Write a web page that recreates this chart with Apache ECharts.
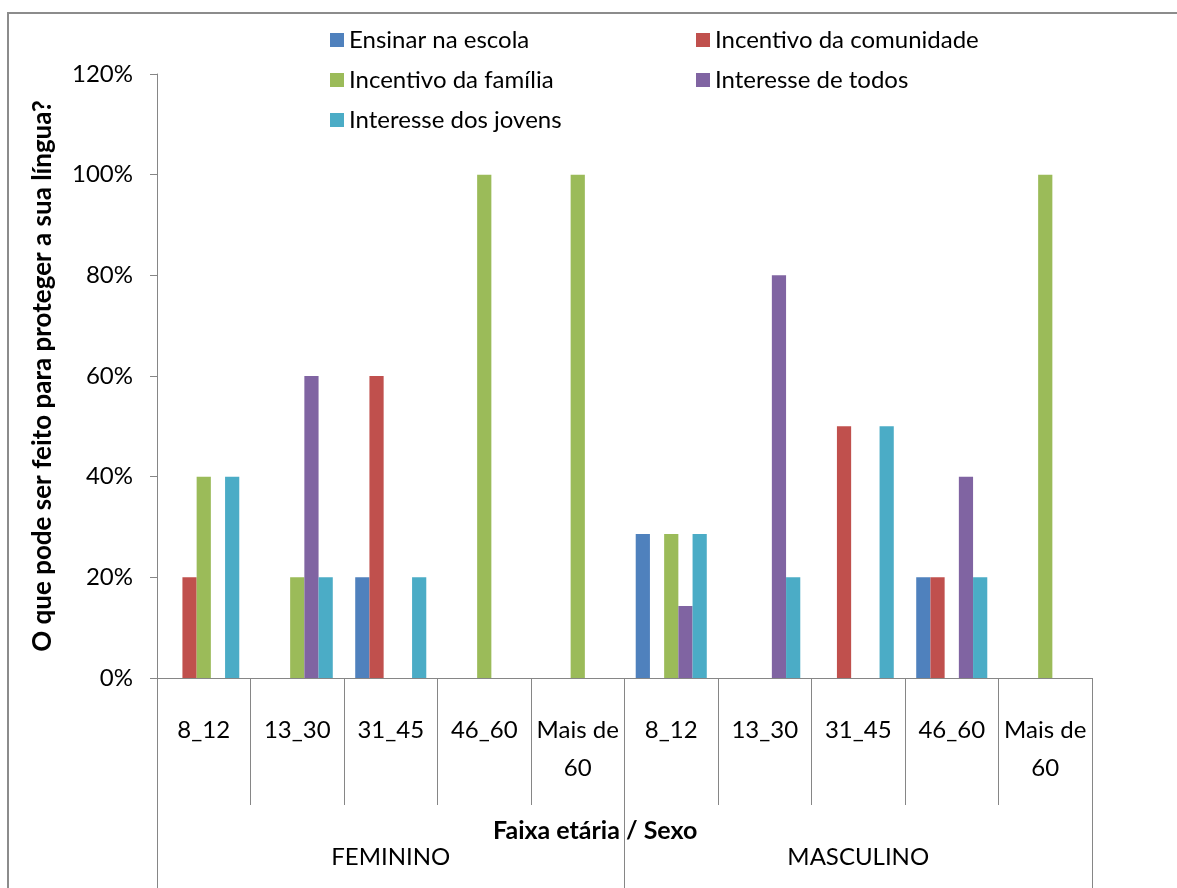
<!DOCTYPE html>
<html>
<head>
<meta charset="utf-8">
<script src="https://cdn.jsdelivr.net/npm/echarts@6/dist/echarts.min.js"></script>
<style>
  html, body { margin: 0; padding: 0; background: #fff; }
  #chart { width: 1177px; height: 888px; }
</style>
</head>
<body>
<div id="chart"></div>
<script>
// Age bands repeated for each sex, and the sex groups beneath them
const ageBands = ['8_12', '13_30', '31_45', '46_60', 'Mais de 60',
                  '8_12', '13_30', '31_45', '46_60', 'Mais de 60'];
const sexGroups = ['FEMININO', 'MASCULINO'];
const yTicks = [0, 20, 40, 60, 80, 100, 120];

// Share of answers (%) per age band / sex
const ensinarNaEscola       = [0, 0, 20, 0, 0, 28.6, 0, 0, 20, 0];
const incentivoComunidade   = [20, 0, 60, 0, 0, 0, 0, 50, 20, 0];
const incentivoFamilia      = [40, 20, 0, 100, 100, 28.6, 0, 0, 0, 100];
const interesseTodos        = [0, 60, 0, 0, 0, 14.3, 80, 0, 40, 0];
const interesseJovens       = [40, 20, 20, 0, 0, 28.6, 20, 50, 20, 0];

const seriesNames = ['Ensinar na escola', 'Incentivo da comunidade', 'Incentivo da família',
                     'Interesse de todos', 'Interesse dos jovens'];
const seriesValues = [ensinarNaEscola, incentivoComunidade, incentivoFamilia,
                      interesseTodos, interesseJovens];
const colors = ['#4F81BD', '#C0504D', '#9BBB59', '#8064A2', '#4BACC6'];

const FONT = 'Lato';
const axisGray = '#868686';

const chart = echarts.init(document.getElementById('chart'), null, { renderer: 'canvas' });

const legendText = { fontFamily: FONT, fontSize: 24, color: '#000', lineHeight: 26 };

chart.setOption({
  animation: false,
  color: colors,
  grid: { left: 157, right: 85, top: 74, bottom: 210, containLabel: false },
  legend: [
    {
      orient: 'vertical', left: 325, top: 22, itemWidth: 14, itemHeight: 14, itemGap: 14,
      icon: 'rect', textStyle: legendText,
      data: [seriesNames[0], seriesNames[2], seriesNames[4]]
    },
    {
      orient: 'vertical', left: 691, top: 22, itemWidth: 14, itemHeight: 14, itemGap: 14,
      icon: 'rect', textStyle: legendText,
      data: [seriesNames[1], seriesNames[3]]
    }
  ],
  xAxis: [
    {
      type: 'category',
      data: ageBands,
      axisLine: { show: true, lineStyle: { color: axisGray, width: 1 } },
      axisTick: { show: true, interval: 0, length: 127, lineStyle: { color: axisGray } },
      axisLabel: {
        interval: 0, margin: 33, fontFamily: FONT, fontSize: 24, color: '#000',
        lineHeight: 38, verticalAlign: 'top',
        formatter: v => v.replace('Mais de ', 'Mais de\n')
      },
      splitLine: { show: false }
    },
    {
      type: 'category',
      data: sexGroups,
      position: 'bottom',
      axisLine: { show: false },
      axisTick: { show: true, interval: 0, length: 210, lineStyle: { color: axisGray } },
      axisLabel: {
        interval: 0, margin: 166, fontFamily: FONT, fontSize: 24, color: '#000',
        lineHeight: 26, verticalAlign: 'top'
      },
      splitLine: { show: false }
    }
  ],
  yAxis: {
    type: 'value',
    min: yTicks[0],
    max: yTicks[yTicks.length - 1],
    interval: 20,
    name: 'O que pode ser feito para proteger a sua língua?',
    nameLocation: 'middle',
    nameRotate: 90,
    nameGap: 101,
    nameTextStyle: { fontFamily: FONT, fontSize: 26, fontWeight: 'bold', color: '#000' },
    axisLine: { show: true, lineStyle: { color: axisGray } },
    axisTick: { show: true, length: 7, lineStyle: { color: axisGray } },
    axisLabel: { margin: 24, fontFamily: FONT, fontSize: 24, color: '#000', formatter: '{value}%' },
    splitLine: { show: false }
  },
  graphic: [
    {
      type: 'rect', silent: true, z: -1,
      shape: { x: 8, y: 13, width: 1400, height: 1000 },
      style: { fill: null, stroke: '#8c8c8c', lineWidth: 2 }
    },
    {
      type: 'text', left: 493, top: 818,
      style: { text: 'Faixa etária / Sexo', fontFamily: FONT, fontSize: 25, fontWeight: 'bold', fill: '#000' }
    }
  ],
  series: seriesNames.map((name, i) => ({
    name,
    type: 'bar',
    xAxisIndex: 0,
    data: seriesValues[i],
    barGap: '0%',
    barCategoryGap: '24%',
    itemStyle: { color: colors[i] }
  }))
});
</script>
</body>
</html>
